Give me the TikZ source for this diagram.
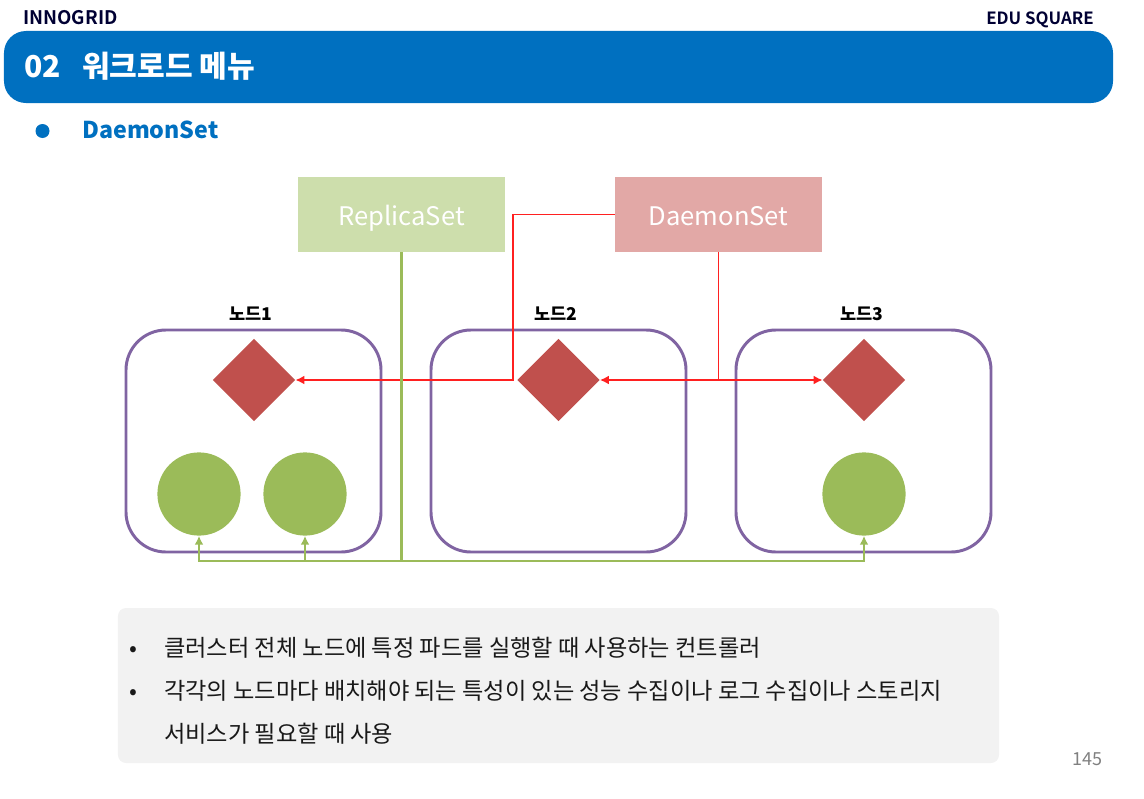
\documentclass[tikz,border=0pt]{standalone}
\usepackage{fontspec}
\usepackage{xcolor}
\setmainfont{Noto Sans CJK KR}
\newfontfamily\brandfont{Noto Sans CJK KR}[BoldFont={* Bold}]
\usetikzlibrary{shapes.geometric,arrows.meta}
\definecolor{barblue}{HTML}{0070C0}
\definecolor{podgreen}{HTML}{9BBB59}
\definecolor{dsred}{HTML}{C0504D}
\definecolor{nodepurple}{HTML}{8064A2}
\definecolor{linered}{HTML}{FF2020}
\definecolor{rsfill}{HTML}{CDDEAC}
\definecolor{dsfill}{HTML}{E2A8A6}
\newcommand{\ctrltext}[1]{\raisebox{-8pt}[0pt][0pt]{#1}}

\begin{document}
\begin{tikzpicture}[x=0.25mm,y=-0.25mm,>={Latex[length=2.2mm,width=2.2mm]},
  ctrl/.style={minimum width=51.75mm,minimum height=18.75mm,inner sep=0pt,text=white,font=\fontsize{18.2}{22}\selectfont},
  worker/.style={draw=nodepurple,line width=2.1pt,rounded corners=10mm,minimum width=63.75mm,minimum height=55.5mm,inner sep=0pt},
  dspod/.style={diamond,fill=dsred,aspect=1,minimum size=20.6mm,inner sep=0pt},
  rspod/.style={circle,fill=podgreen,minimum size=20.8mm,inner sep=0pt},
  lab/.style={font=\bfseries\fontsize{12.5}{15}\selectfont,inner sep=0pt,anchor=base},
  redline/.style={linered,line width=1.1pt},
  greenline/.style={podgreen,line width=1.1pt},
  brandtxt/.style={font=\brandfont\bfseries\fontsize{#1}{14}\selectfont,text=black!80!blue,inner sep=0pt},
  txt/.style={font=\fontsize{16.5}{20}\selectfont,inner sep=0pt,anchor=base west,text=black!90}]
\useasboundingbox (0,0) rectangle (1144,798);
% page header
\node[brandtxt=13.3,anchor=base west] (brand) at (23,24) {INNOGRID};
\node[brandtxt=12,anchor=base east] (edu) at (1094,25) {EDU SQUARE};
\node[fill=barblue,rounded corners=5.5mm,minimum width=277.25mm,minimum height=18mm,inner sep=0pt] (bar) at (558.5,67) {};
\node[font=\bfseries\fontsize{21.4}{25}\selectfont,text=white,inner sep=0pt,anchor=base west] (num) at (24,77) {02};
\node[font=\bfseries\fontsize{21.4}{25}\selectfont,text=white,inner sep=0pt,anchor=base west] (title) at (82,77) {워크로드 메뉴};
\node[circle,fill=barblue,minimum size=3.5mm,inner sep=0pt] (dot) at (42.5,131) {};
\node[font=\bfseries\fontsize{16.5}{20}\selectfont,text=barblue,inner sep=0pt,anchor=base west] (head) at (82,138) {DaemonSet};
% controllers
\node[ctrl,fill=rsfill] (rs) at (401.5,214.5) {\ctrltext{ReplicaSet}};
\node[ctrl,fill=dsfill] (ds) at (718.5,214.5) {\ctrltext{DaemonSet}};
% worker nodes
\node[worker] (n1) at (253.5,441) {};
\node[worker] (n2) at (558.5,441) {};
\node[worker] (n3) at (863.5,441) {};
\node[lab] (l1) at (251,320) {노드1};
\node[lab] (l2) at (556,320) {노드2};
\node[lab] (l3) at (862,320) {노드3};
% pods
\node[dspod] (d1) at (254,380) {};
\node[dspod] (d2) at (558.5,380) {};
\node[dspod] (d3) at (864,380) {};
\node[rspod] (c1) at (199,494) {};
\node[rspod] (c2) at (305,494) {};
\node[rspod] (c3) at (864,494) {};
% daemonset wiring
\coordinate (rbend) at (513,380);
\coordinate (rjoin) at (718.5,380);
\draw[redline,->] (ds.west) -| (rbend) -- (d1.east);
\draw[redline,line width=1.3pt] (ds.south) -- (rjoin);
\draw[redline,->] (rjoin) -- (d2.east);
\draw[redline,->] (rjoin) -- (d3.west);
% replicaset wiring
\coordinate (gjoin) at (401.5,561);
\draw[greenline,line width=1.7pt] (rs.south) -- (gjoin);
\draw[greenline,->] (gjoin) -| (c1.south);
\draw[greenline,->] (gjoin) -| (c2.south);
\draw[greenline,->] (gjoin) -| (c3.south);
% notes
\node[fill=black!5,rounded corners=2mm,minimum width=220.25mm,minimum height=38.75mm,inner sep=0pt] (notes) at (558.5,685.5) {};
\node[txt] (b1) at (129,656) {•};
\node[txt] (t1) at (164,656) {클러스터 전체 노드에 특정 파드를 실행할 때 사용하는 컨트롤러};
\node[txt] (b2) at (129,699) {•};
\node[txt] (t2) at (164,699) {각각의 노드마다 배치해야 되는 특성이 있는 성능 수집이나 로그 수집이나 스토리지};
\node[txt] (t3) at (164,742) {서비스가 필요할 때 사용};
\node[font=\fontsize{12.8}{17}\selectfont,text=black!50,inner sep=0pt,anchor=base east] (page) at (1103,765) {145};
\end{tikzpicture}
\end{document}
